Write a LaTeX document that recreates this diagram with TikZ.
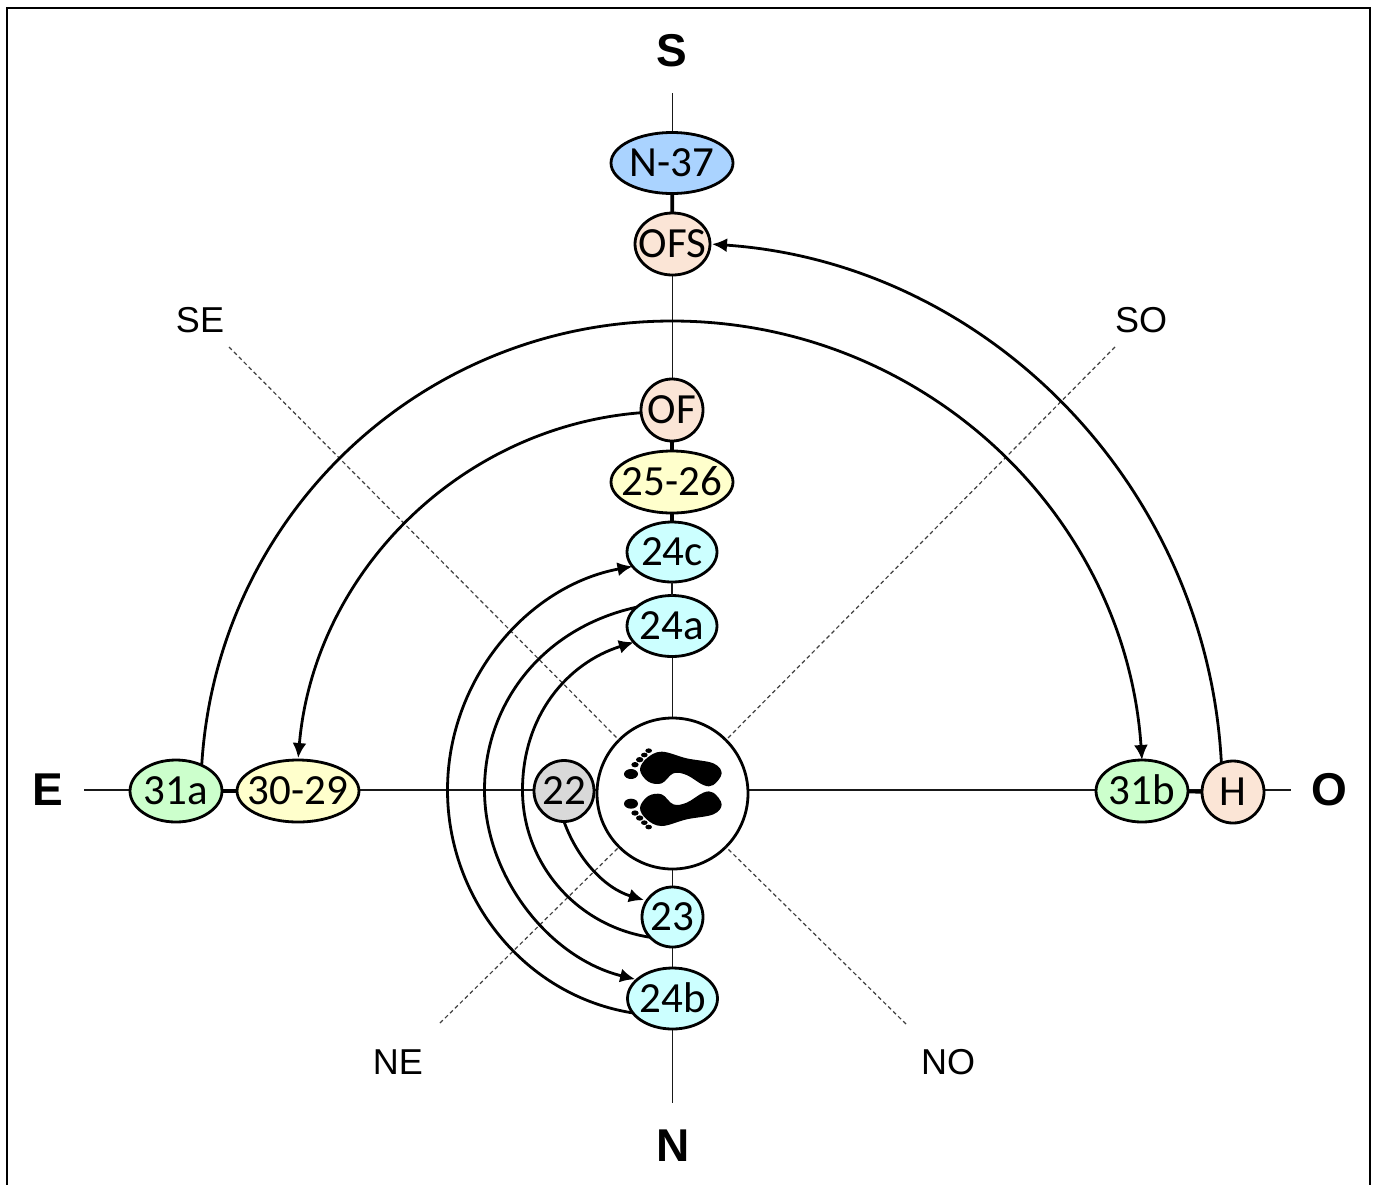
\documentclass[tikz,border=0pt]{standalone}
\usepackage{fontspec}
\setmainfont{Carlito}
\newfontfamily\lab{Liberation Sans}
\usetikzlibrary{shapes.geometric,arrows.meta}
\newcommand{\nt}[1]{\fontsize{43}{43}\selectfont\smash{\raisebox{-.32em}{\makebox[0pt]{#1}}}}
\tikzset{
  oval/.style n args={3}{ellipse,draw=black,line width=2.8pt,fill=#3,minimum width=#1pt,minimum height=#2pt,inner sep=0pt,outer sep=0pt},
  axisline/.style={line width=1.8pt,black!90},
  link/.style={line width=3.8pt,black},
  diag/.style={line width=1.2pt,black!75,dash pattern=on 4pt off 3pt},
  arc line/.style={line width=2.8pt,black},
  arrowed/.style={arc line,-{Latex[length=15pt,width=14pt]}},
  big/.style={font=\lab\bfseries\fontsize{46}{46}\selectfont,inner sep=0pt},
  small/.style={font=\lab\fontsize{36}{36}\selectfont,text=black,inner sep=0pt},
  footpic/.pic={
    \fill[black] plot[smooth cycle,tension=.6] coordinates {(215,125)(290,145)(370,160)(395,190)(370,225)(340,225)(290,195)(250,190)(215,220)(175,215)(150,180)(170,145)};
    \fill[black] (123,192) ellipse [x radius=21,y radius=15];
    \fill[black] (135,164) ellipse [x radius=11,y radius=8];
    \fill[black] (149,149) ellipse [x radius=11,y radius=8];
    \fill[black] (163,135) ellipse [x radius=10,y radius=7];
    \fill[black] (176,122) ellipse [x radius=10,y radius=7];
  }
}
\definecolor{cblue}{HTML}{AAD3FF}
\definecolor{cpeach}{HTML}{FBE5D6}
\definecolor{cyell}{HTML}{FFFFCC}
\definecolor{ccyan}{HTML}{CCFFFF}
\definecolor{cgreen}{HTML}{CCFFCC}
\definecolor{cgray}{HTML}{D9D9D9}
\begin{document}
\begin{tikzpicture}[x=1pt,y=-1pt]
\useasboundingbox (0,0) rectangle (1376,1184);
\fill[white] (0,0) rectangle (1376,1184);
\clip (0,0) rectangle (1376,1184);
\draw[black,line width=2.2pt] (7,8) rectangle (1370,1200);
% axes
\coordinate (axN) at (672.5,93);
\coordinate (axS) at (672.5,1103);
\coordinate (axW) at (84,790);
\coordinate (axE) at (1291,790);
\coordinate (dSE) at (229,347);
\coordinate (dSO) at (1115,347);
\coordinate (dNE) at (440,1023);
\coordinate (dNO) at (906,1024);
\draw[axisline] (axN) -- (axS);
\draw[axisline] (axW) -- (axE);
% nodes
\node[oval={122}{61}{cblue}] (n37) at (672,163) {\nt{N-37}};
\node[oval={75}{62}{cpeach}] (ofs) at (672.5,244) {\nt{OFS}};
\node[oval={62}{62}{cpeach}] (of) at (672,410) {\nt{OF}};
\node[oval={122}{62}{cyell}] (n25) at (672,482) {\nt{25-26}};
\node[oval={90}{60}{ccyan}] (c24) at (672,552) {\nt{24c}};
\node[oval={90}{61}{ccyan}] (a24) at (672,626) {\nt{24a}};
\node[oval={151}{151}{white}] (feet) at (672.5,793.5) {};
\node[oval={60}{61}{cgray}] (n22) at (564,791) {\nt{22}};
\node[oval={61}{60}{ccyan}] (n23) at (672.5,917) {\nt{23}};
\node[oval={90}{61}{ccyan}] (b24) at (672.5,998.5) {\nt{24b}};
\node[oval={92}{62}{cgreen}] (a31) at (176,791) {\nt{31a}};
\node[oval={122}{62}{cyell}] (n30) at (298,791) {\nt{30-29}};
\node[oval={92}{62}{cgreen}] (b31) at (1142,791) {\nt{31b}};
\node[oval={62}{62}{cpeach}] (nH) at (1233,792) {\nt{H}};
% feet
\begin{scope}[shift={(590,710)},x=.3333pt,y=-.3333pt]
\pic {footpic};
\end{scope}
\begin{scope}[shift={(590,867.67)},x=.3333pt,y=.3333pt]
\pic {footpic};
\end{scope}
% links
\draw[link] (n37) -- (ofs);
\draw[link] (of) -- (n25);
\draw[link] (n25) -- (c24);
\draw[axisline] (c24) -- (a24);
\draw[link] (a31) -- (n30);
\draw[link] (b31) -- (nH);
% dashed
\draw[diag] (dSE) -- (feet.135);
\draw[diag] (dSO) -- (feet.45);
\draw[diag] (dNE) -- (feet.225);
\draw[diag] (dNO) -- (feet.315);
% arcs
\coordinate (topA) at (672,321);
\draw[arrowed] (a31.45) .. controls (217,514) and (423,321) .. (topA) .. controls (921,321) and (1125,512) .. (b31.north);
\draw[arrowed,shorten >=2pt] (nH.112) .. controls (1207,486) and (988,263) .. (ofs.east);
\draw[arrowed,shorten >=2pt] (of.185) .. controls (459,427) and (314,574) .. (n30.north);
\coordinate (wA) at (447.5,790);
\coordinate (wB) at (484.5,790);
\coordinate (wC) at (522.5,790);
\draw[arrowed] (b24.200) .. controls (525,996) and (447.5,899) .. (wA) .. controls (447.5,680) and (527,586) .. (c24.200);
\draw[arrowed,shorten >=2pt] (a24.152) .. controls (542,628) and (484.5,704) .. (wB) .. controls (484.5,876) and (549,958) .. (b24.152);
\draw[arrowed] (n23.222) .. controls (577,926) and (522.5,864) .. (wC) .. controls (522.5,716) and (567,663) .. (a24.203);
\draw[arrowed,shorten >=3pt] (n22.south) .. controls (577,858) and (604,888) .. (n23.148);
% labels
\node[big] (lS) at (672,51) {S};
\node[big] (lN) at (673,1146) {N};
\node[big] (lE) at (48,790) {E};
\node[big] (lO) at (1329,790) {O};
\node[small] (lSE) at (200,320) {SE};
\node[small] (lSO) at (1141,320) {SO};
\node[small] (lNE) at (398,1062) {NE};
\node[small] (lNO) at (948,1062) {NO};
\end{tikzpicture}
\end{document}
